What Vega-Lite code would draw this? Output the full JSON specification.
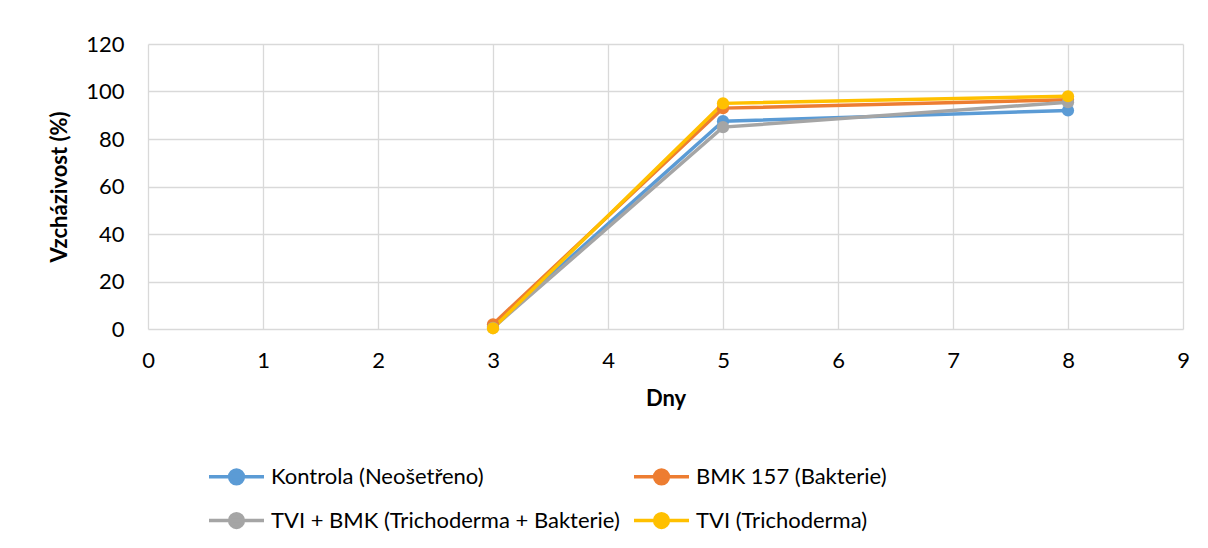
{
  "$schema": "https://vega.github.io/schema/vega-lite/v6.json",
  "width": 1035,
  "height": 285,
  "autosize": {"type": "none"},
  "padding": {"left": 148, "top": 44, "right": 25, "bottom": 219},
  "background": "white",
  "config": {
    "font": "Lato",
    "view": {"stroke": null},
    "axis": {
      "labelFont": "Lato",
      "labelFontSize": 22,
      "labelColor": "#000000",
      "titleFont": "Lato",
      "titleFontSize": 22,
      "titleFontWeight": "bold",
      "titleColor": "#000000",
      "grid": true,
      "gridColor": "#D9D9D9",
      "gridWidth": 1.3,
      "domain": false,
      "ticks": false
    }
  },
  "data": {
    "values": [
      {"series": "Kontrola (Neošetřeno)", "day": 3, "value": 1},
      {"series": "Kontrola (Neošetřeno)", "day": 5, "value": 87.5},
      {"series": "Kontrola (Neošetřeno)", "day": 8, "value": 92},
      {"series": "BMK 157 (Bakterie)", "day": 3, "value": 2},
      {"series": "BMK 157 (Bakterie)", "day": 5, "value": 93},
      {"series": "BMK 157 (Bakterie)", "day": 8, "value": 96.5},
      {"series": "TVI + BMK (Trichoderma + Bakterie)", "day": 3, "value": 0.5},
      {"series": "TVI + BMK (Trichoderma + Bakterie)", "day": 5, "value": 85},
      {"series": "TVI + BMK (Trichoderma + Bakterie)", "day": 8, "value": 95.5},
      {"series": "TVI (Trichoderma)", "day": 3, "value": 0.3},
      {"series": "TVI (Trichoderma)", "day": 5, "value": 95},
      {"series": "TVI (Trichoderma)", "day": 8, "value": 98}
    ]
  },
  "encoding": {
    "x": {
      "field": "day",
      "type": "quantitative",
      "title": "Dny",
      "scale": {"domain": [0, 9], "nice": false, "zero": false},
      "axis": {"values": [0, 1, 2, 3, 4, 5, 6, 7, 8, 9], "labelPadding": 21, "titlePadding": 17, "labelFlush": false}
    },
    "y": {
      "field": "value",
      "type": "quantitative",
      "title": "Vzcházivost (%)",
      "scale": {"domain": [0, 120], "nice": false},
      "axis": {"values": [0, 20, 40, 60, 80, 100, 120], "labelPadding": 24, "titlePadding": 14}
    },
    "color": {
      "field": "series",
      "type": "nominal",
      "sort": ["Kontrola (Neošetřeno)", "BMK 157 (Bakterie)", "TVI + BMK (Trichoderma + Bakterie)", "TVI (Trichoderma)"],
      "scale": {
        "domain": ["Kontrola (Neošetřeno)", "BMK 157 (Bakterie)", "TVI + BMK (Trichoderma + Bakterie)", "TVI (Trichoderma)"],
        "range": ["#5B9BD5", "#ED7D31", "#A5A5A5", "#FFC000"]
      },
      "legend": {
        "title": null,
        "orient": "none",
        "direction": "horizontal",
        "legendX": 59,
        "legendY": 403,
        "columns": 2,
        "columnPadding": 7,
        "rowPadding": -10,
        "labelFont": "Lato",
        "labelFontSize": 22,
        "labelColor": "#000000",
        "labelLimit": 600,
        "labelOffset": 5,
        "symbolType": "M-1,0L1,0M0.25,0A0.25,0.25,0,1,1,-0.25,0A0.25,0.25,0,1,1,0.25,0Z",
        "symbolSize": 3025,
        "symbolStrokeWidth": 3.5,
        "encode": {
          "symbols": {
            "update": {
              "fill": {"scale": "color", "field": "value"},
              "stroke": {"scale": "color", "field": "value"},
              "strokeWidth": {"value": 3.5},
              "opacity": {"value": 1}
            }
          }
        }
      }
    }
  },
  "layer": [
    {"mark": {"type": "line", "strokeWidth": 3.5}},
    {"mark": {"type": "point", "filled": true, "size": 150, "opacity": 1}}
  ]
}
